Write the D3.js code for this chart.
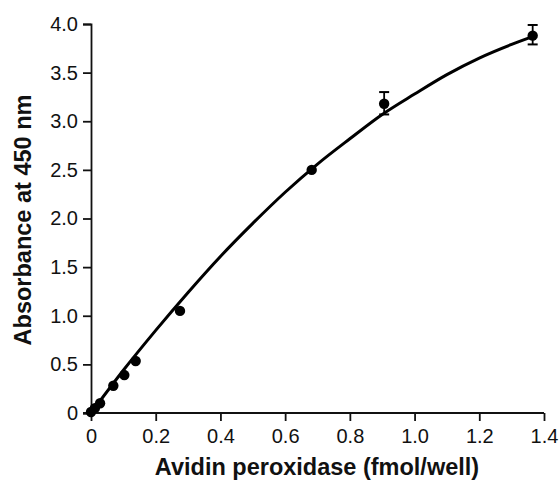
<!DOCTYPE html>
<html>
<head>
<meta charset="utf-8">
<script src="https://cdn.jsdelivr.net/npm/d3@7"></script>
<style>
  html, body { margin: 0; padding: 0; background: #fff; }
  svg { display: block; }
  text { font-family: "Liberation Sans", Arial, Helvetica, sans-serif; fill: #111; }
</style>
</head>
<body>
<svg id="chart" width="559" height="481"></svg>
<script>
// Measured data points (x: fmol/well, y: absorbance)
const pointX = [0.0, 0.012, 0.028, 0.069, 0.103, 0.138, 0.275, 0.682, 0.906, 1.365];
const pointY = [0.01, 0.05, 0.10, 0.28, 0.39, 0.535, 1.05, 2.50, 3.18, 3.88];
const errLow  = [null, null, null, null, null, null, null, null, 3.07, 3.79];
const errHigh = [null, null, null, null, null, null, null, null, 3.30, 3.99];

// Fitted curve
const curveX = [0, 0.1, 0.2, 0.3, 0.4, 0.5, 0.6, 0.7, 0.8, 0.9, 1.0, 1.1, 1.2, 1.3, 1.365];
const curveY = [0, 0.44, 0.85, 1.24, 1.61, 1.95, 2.27, 2.56, 2.82, 3.07, 3.28, 3.48, 3.65, 3.79, 3.87];

const xTicks = [0, 0.2, 0.4, 0.6, 0.8, 1.0, 1.2, 1.4];
const yTicks = [0, 0.5, 1.0, 1.5, 2.0, 2.5, 3.0, 3.5, 4.0];
const xTitle = "Avidin peroxidase (fmol/well)";
const yTitle = "Absorbance at 450 nm";

const svg = d3.select("#chart");
const x = d3.scaleLinear().domain([0, 1.4]).range([91, 544]);
const y = d3.scaleLinear().domain([0, 4]).range([413, 24]);

const fmt = v => v === 0 ? "0" : d3.format(".1f")(v);

const xAxis = svg.append("g")
  .attr("transform", `translate(0,${y(0)})`)
  .call(d3.axisBottom(x).tickValues(xTicks).tickFormat(fmt).tickSizeOuter(0).tickSize(8).tickPadding(8));
const yAxis = svg.append("g")
  .attr("transform", `translate(${x(0)},0)`)
  .call(d3.axisLeft(y).tickValues(yTicks).tickFormat(fmt).tickSizeOuter(0).tickSize(8).tickPadding(5));

[xAxis, yAxis].forEach(g => {
  g.select(".domain").attr("stroke", "#111").attr("stroke-width", 1.8);
  g.selectAll(".tick line").attr("stroke", "#111").attr("stroke-width", 1.8);
  g.selectAll(".tick text").style("font-size", "20px").attr("fill", "#222");
});

// x axis baseline extends left of the y axis a little
xAxis.select(".domain").remove();
svg.append("line")
  .attr("x1", x(0) - 8).attr("x2", x(1.4))
  .attr("y1", y(0)).attr("y2", y(0))
  .attr("stroke", "#111").attr("stroke-width", 1.8);

// curve
const curveData = curveX.map((d, i) => [d, curveY[i]]);
svg.append("path")
  .datum(curveData)
  .attr("fill", "none")
  .attr("stroke", "#000")
  .attr("stroke-width", 3)
  .attr("d", d3.line().x(d => x(d[0])).y(d => y(d[1])).curve(d3.curveMonotoneX));

// error bars
const pts = pointX.map((d, i) => ({ x: d, y: pointY[i], lo: errLow[i], hi: errHigh[i] }));
const eb = svg.append("g").selectAll("g").data(pts.filter(d => d.lo !== null)).join("g");
eb.append("line").attr("x1", d => x(d.x)).attr("x2", d => x(d.x))
  .attr("y1", d => y(d.lo)).attr("y2", d => y(d.hi)).attr("stroke", "#000").attr("stroke-width", 1.8);
eb.append("line").attr("x1", d => x(d.x) - 5).attr("x2", d => x(d.x) + 5)
  .attr("y1", d => y(d.lo)).attr("y2", d => y(d.lo)).attr("stroke", "#000").attr("stroke-width", 2);
eb.append("line").attr("x1", d => x(d.x) - 5).attr("x2", d => x(d.x) + 5)
  .attr("y1", d => y(d.hi)).attr("y2", d => y(d.hi)).attr("stroke", "#000").attr("stroke-width", 2);

// points
svg.append("g").selectAll("circle").data(pts).join("circle")
  .attr("cx", d => x(d.x)).attr("cy", d => y(d.y)).attr("r", 5.2)
  .attr("fill", "#000");

// titles
svg.append("text")
  .attr("x", 317).attr("y", 475)
  .attr("text-anchor", "middle")
  .style("font-size", "23.5px").style("font-weight", "bold")
  .text(xTitle);
svg.append("text")
  .attr("transform", `translate(31,220) rotate(-90)`)
  .attr("text-anchor", "middle")
  .style("font-size", "23.5px").style("font-weight", "bold")
  .text(yTitle);
</script>
</body>
</html>
